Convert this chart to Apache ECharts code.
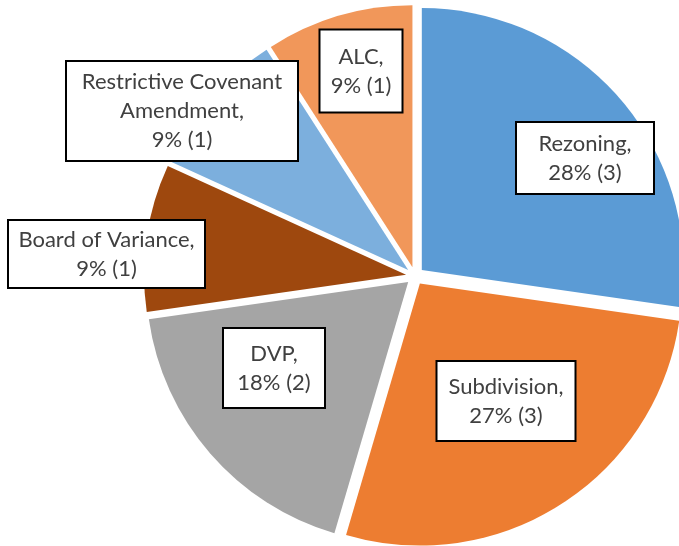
<!DOCTYPE html>
<html>
<head>
<meta charset="utf-8">
<script src="https://cdn.jsdelivr.net/npm/echarts@6/dist/echarts.min.js"></script>
<style>html,body{margin:0;padding:0;background:#fff}#chart{width:679px;height:546px}</style>
</head>
<body>
<div id="chart"></div>
<script>
// ---- data ----
const categories = ['Rezoning', 'Subdivision', 'DVP', 'Board of Variance', 'Restrictive Covenant Amendment', 'ALC'];
const counts = [3, 3, 2, 1, 1, 1];
const pctLabels = ['28%', '27%', '18%', '9%', '9%', '9%'];

// ---- styles ----
const colors = ['#5B9BD5', '#ED7D31', '#A5A5A5', '#9E480E', '#7CAFDD', '#F1975A'];
const labelPos = [[585, 158], [506, 401], [274, 368], [106.5, 254], [182, 111], [361, 71]];
const boxSize = [[136, 70], [137, 78], [100, 78], [195, 66], [230, 98], [81, 81]];
const LH = 29;

function labelText(i) {
  let n = categories[i];
  if (n === 'Restrictive Covenant Amendment') n = 'Restrictive Covenant\nAmendment';
  return n + ',\n' + pctLabels[i] + ' (' + counts[i] + ')';
}

const sliceData = categories.map(function (c, i) {
  return { name: c, value: counts[i], selected: true, itemStyle: { color: colors[i] } };
});

const labelData = categories.map(function (c, i) {
  const lines = labelText(i).split('\n').length;
  const pv = (boxSize[i][1] - lines * LH) / 2;
  return {
    name: c,
    value: counts[i],
    label: { width: boxSize[i][0] - 8, padding: [pv, 4, pv, 4] }
  };
});

const chart = echarts.init(document.getElementById('chart'));
chart.setOption({
  animation: false,
  series: [{
    type: 'pie',
    center: [415, 276],
    radius: 262,
    startAngle: 90,
    clockwise: true,
    selectedMode: 'multiple',
    selectedOffset: 9,
    select: { itemStyle: { borderWidth: 0 } },
    emphasis: { disabled: true },
    itemStyle: { borderWidth: 0 },
    label: { show: false },
    labelLine: { show: false },
    data: sliceData
  }, {
    type: 'pie',
    center: [415, 276],
    radius: 262,
    startAngle: 90,
    clockwise: true,
    silent: true,
    z: 5,
    emphasis: { disabled: true },
    itemStyle: { color: 'rgba(0,0,0,0)', borderWidth: 0 },
    labelLine: { show: false },
    label: {
      show: true,
      position: 'inside',
      formatter: function (p) { return labelText(p.dataIndex); },
      color: '#404040',
      fontFamily: 'Lato',
      fontSize: 22,
      lineHeight: LH,
      align: 'center',
      backgroundColor: '#ffffff',
      borderColor: '#000000',
      borderWidth: 2
    },
    labelLayout: function (params) {
      const p = labelPos[params.dataIndex];
      return { x: p[0], y: p[1], align: 'center', verticalAlign: 'middle', hideOverlap: false };
    },
    data: labelData
  }]
});
</script>
</body>
</html>
